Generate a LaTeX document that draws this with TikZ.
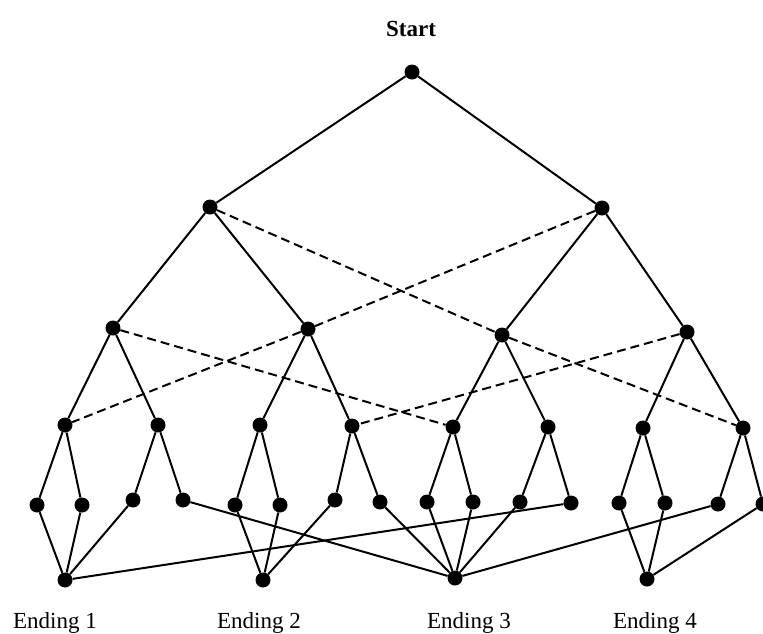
\documentclass[tikz,border=0pt]{standalone}
\usepackage{fontspec}
\setmainfont{Liberation Serif}
\usepackage{tikz}
\usetikzlibrary{arrows.meta}

\begin{document}
\begin{tikzpicture}[x=1pt,y=-1pt,
    dot/.style={circle,fill=black,inner sep=0pt,minimum width=15pt,minimum height=14pt},
    edge/.style={line width=2pt},
    cross/.style={line width=2pt,dash pattern=on 9pt off 5pt},
    lab/.style={font=\fontsize{23}{27}\selectfont}]
	\useasboundingbox (0,0) rectangle (763,633);
    % levels of the tree
    \node[dot] (r) at (412,72) {};
    \node[dot] (a1) at (210,207) {};
    \node[dot] (a2) at (602,208) {};
    \node[dot] (b1) at (113,328) {};
    \node[dot] (b2) at (308,329) {};
    \node[dot] (b3) at (502,335) {};
    \node[dot] (b4) at (687,332) {};
    \node[dot] (c1) at (65,425) {};
    \node[dot] (c2) at (158,425) {};
    \node[dot] (c3) at (260,425) {};
    \node[dot] (c4) at (352,426) {};
    \node[dot] (c5) at (453,427) {};
    \node[dot] (c6) at (548,427) {};
    \node[dot] (c7) at (643,428) {};
    \node[dot] (c8) at (743,428) {};
    \node[dot] (d1) at (37,505) {};
    \node[dot] (d2) at (82,505) {};
    \node[dot] (d3) at (133,500) {};
    \node[dot] (d4) at (183,500) {};
    \node[dot] (d5) at (235,505) {};
    \node[dot] (d6) at (280,505) {};
    \node[dot] (d7) at (335,500) {};
    \node[dot] (d8) at (380,502) {};
    \node[dot] (d9) at (427,502) {};
    \node[dot] (d10) at (473,502) {};
    \node[dot] (d11) at (520,502) {};
    \node[dot] (d12) at (571,503) {};
    \node[dot] (d13) at (619,503) {};
    \node[dot] (d14) at (665,503) {};
    \node[dot] (d15) at (718,504) {};
    \node[dot] (d16) at (763,504) {};
    \node[dot] (e1) at (65,580) {};
    \node[dot] (e2) at (263,580) {};
    \node[dot] (e3) at (455,578) {};
    \node[dot] (e4) at (647,579) {};
    % labels
    \node[lab,font=\fontsize{23}{27}\selectfont\bfseries] (start) at (411,29) {Start};
    \node[lab] (end1) at (55,623) {Ending 1};
    \node[lab] (end2) at (259,623) {Ending 2};
    \node[lab] (end3) at (469,623) {Ending 3};
    \node[lab] (end4) at (655,623) {Ending 4};
    % branches
    \draw[edge] (a1) -- (r) -- (a2);
    \draw[edge] (b1) -- (a1) -- (b2);
    \draw[edge] (b3) -- (a2) -- (b4);
    \draw[edge] (c1) -- (b1) -- (c2);
    \draw[edge] (c3) -- (b2) -- (c4);
    \draw[edge] (c5) -- (b3) -- (c6);
    \draw[edge] (c7) -- (b4) -- (c8);
    \draw[edge] (d1) -- (c1) -- (d2);
    \draw[edge] (d3) -- (c2) -- (d4);
    \draw[edge] (d5) -- (c3) -- (d6);
    \draw[edge] (d7) -- (c4) -- (d8);
    \draw[edge] (d9) -- (c5) -- (d10);
    \draw[edge] (d11) -- (c6) -- (d12);
    \draw[edge] (d13) -- (c7) -- (d14);
    \draw[edge] (d15) -- (c8) -- (d16);
    % cross links
    \draw[cross] (a1) -- (b3);
    \draw[cross] (b3) -- (c8);
    \draw[cross] (a2) -- (b2);
    \draw[cross] (b2) -- (c1);
    \draw[cross] (b1) -- (c5);
    \draw[cross] (b4) -- (c4);
    % endings
    \draw[edge] (d1) -- (e1);
    \draw[edge] (d2) -- (e1);
    \draw[edge] (d3) -- (e1);
    \draw[edge] (d12) -- (e1);
    \draw[edge] (d5) -- (e2);
    \draw[edge] (d6) -- (e2);
    \draw[edge] (d7) -- (e2);
    \draw[edge] (d4) -- (e3);
    \draw[edge] (d8) -- (e3);
    \draw[edge] (d9) -- (e3);
    \draw[edge] (d10) -- (e3);
    \draw[edge] (d11) -- (e3);
    \draw[edge] (d15) -- (e3);
    \draw[edge] (d13) -- (e4);
    \draw[edge] (d14) -- (e4);
    \draw[edge] (d16) -- (e4);
\end{tikzpicture}
\end{document}
